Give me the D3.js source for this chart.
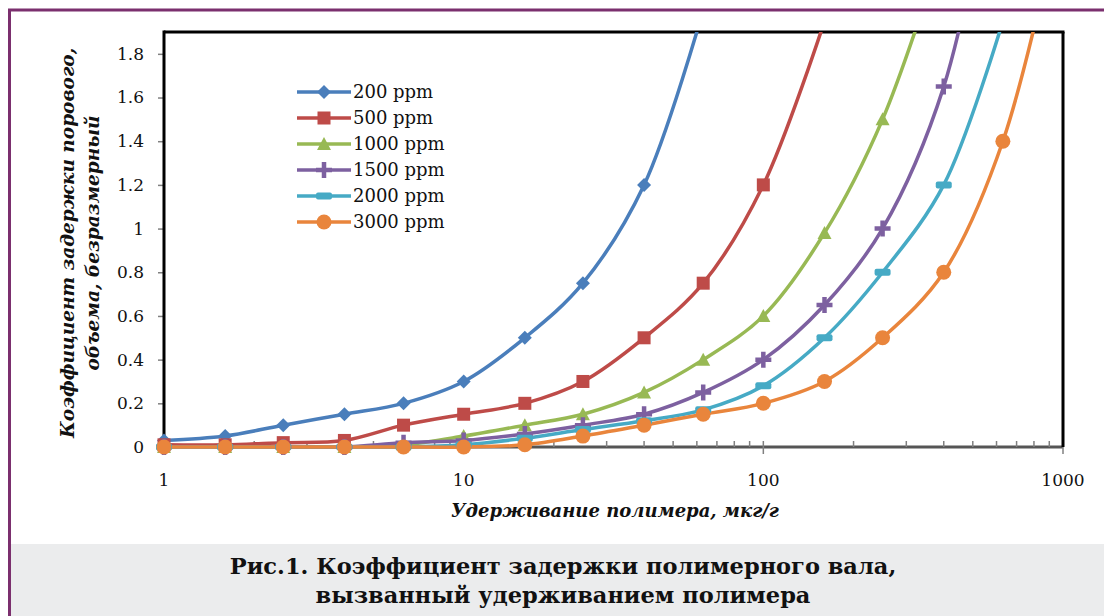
<!DOCTYPE html>
<html>
<head>
<meta charset="utf-8">
<script src="https://cdn.jsdelivr.net/npm/d3@7"></script>
<style>
  body { margin: 0; background: #fff; }
  svg { display: block; }
  svg text { font-family: "DejaVu Serif", serif; }
</style>
</head>
<body>
<svg width="1104" height="616"></svg>
<script>
// data
var retention = [1, 1.6, 2.5, 4, 6.3, 10, 16, 25, 40, 63, 100, 160, 250, 400, 630, 1000]
var seriesNames = ['200 ppm', '500 ppm', '1000 ppm', '1500 ppm', '2000 ppm', '3000 ppm']
var s200  = [0.03, 0.05, 0.1, 0.15, 0.2, 0.3, 0.5, 0.75, 1.2, 2.0]
var s500  = [0.01, 0.01, 0.02, 0.03, 0.1, 0.15, 0.2, 0.3, 0.5, 0.75, 1.2, 1.95]
var s1000 = [0, 0, 0, 0, 0.01, 0.05, 0.1, 0.15, 0.25, 0.4, 0.6, 0.98, 1.5, 2.3]
var s1500 = [0, 0, 0, 0, 0.02, 0.03, 0.06, 0.1, 0.15, 0.25, 0.4, 0.65, 1.0, 1.65, 2.9]
var s2000 = [0, 0, 0, 0, 0, 0.01, 0.04, 0.08, 0.12, 0.17, 0.28, 0.5, 0.8, 1.2, 1.95]
var s3000 = [0, 0, 0, 0, 0, 0, 0.01, 0.05, 0.1, 0.15, 0.2, 0.3, 0.5, 0.8, 1.4, 2.5]
var allSeries = [s200, s500, s1000, s1500, s2000, s3000]
var colors = ['#4a7ebb', '#be4b48', '#98b954', '#7d60a0', '#46aac5', '#e9853c']
var yTicks = [0, 0.2, 0.4, 0.6, 0.8, 1, 1.2, 1.4, 1.6, 1.8]
var xTicks = [1, 10, 100, 1000]

var svg = d3.select('svg')

// frame
svg.append('rect').attr('x', 8).attr('y', 544).attr('width', 1096).attr('height', 72).attr('fill', '#ebeced')
svg.append('line').attr('x1', 8).attr('x2', 1104).attr('y1', 10).attr('y2', 10)
   .attr('stroke', '#7b2f6e').attr('stroke-width', 3)
svg.append('line').attr('x1', 9.5).attr('x2', 9.5).attr('y1', 9).attr('y2', 616)
   .attr('stroke', '#7b2f6e').attr('stroke-width', 3)

var margins = {left: 164, right: 1063, top: 32, bottom: 447}

var xScale = d3.scaleLog().domain([1, 1000]).range([margins.left, margins.right])
var yScale = d3.scaleLinear().domain([0, 1.9]).range([margins.bottom, margins.top])

svg.append('clipPath').attr('id', 'plotclip')
   .append('rect').attr('x', margins.left - 12).attr('y', margins.top)
   .attr('width', margins.right - margins.left + 24).attr('height', margins.bottom - margins.top + 14)

// y axis
var yAxis = d3.axisLeft(yScale).tickValues(yTicks).tickSize(6).tickPadding(14)
  .tickFormat(function(d){ return d === 0 || d === 1 ? d : d.toFixed(1) })
var gy = svg.append('g').attr('transform', 'translate(' + margins.left + ',0)').call(yAxis)
gy.attr('font-family', null)
gy.select('.domain').remove()
gy.selectAll('.tick line').attr('stroke', '#808080').attr('stroke-width', 1.5)
gy.selectAll('.tick text').attr('font-size', '17px').attr('fill', '#111')

// x axis: major ticks + minor ticks inside
var minor = []
for (var e = 1; e < 1000; e *= 10) { for (var k = 2; k < 10; k++) minor.push(e * k) }
var gx = svg.append('g').attr('transform', 'translate(0,' + margins.bottom + ')')
gx.append('line').attr('x1', margins.left).attr('x2', margins.right).attr('y1', 0).attr('y2', 0)
  .attr('stroke', '#555').attr('stroke-width', 3)
gx.selectAll('.minor').data(minor).enter().append('line')
  .attr('x1', function(d){ return xScale(d) }).attr('x2', function(d){ return xScale(d) })
  .attr('y1', 0).attr('y2', -6).attr('stroke', '#808080').attr('stroke-width', 1.5)
gx.selectAll('.major').data(xTicks).enter().append('line')
  .attr('x1', function(d){ return xScale(d) }).attr('x2', function(d){ return xScale(d) })
  .attr('y1', -6).attr('y2', 7).attr('stroke', '#808080').attr('stroke-width', 1.5)
gx.selectAll('.lbl').data(xTicks).enter().append('text')
  .attr('x', function(d){ return xScale(d) }).attr('y', 39)
  .attr('text-anchor', 'middle').attr('font-size', '17px').attr('fill', '#111')
  .text(function(d){ return d })

// top and right borders, left axis line
svg.append('line').attr('x1', margins.left).attr('x2', margins.right + 1.5).attr('y1', margins.top).attr('y2', margins.top)
   .attr('stroke', '#000').attr('stroke-width', 3)
svg.append('line').attr('x1', margins.right).attr('x2', margins.right).attr('y1', margins.top).attr('y2', margins.bottom)
   .attr('stroke', '#000').attr('stroke-width', 3)
svg.append('line').attr('x1', margins.left).attr('x2', margins.left).attr('y1', margins.top - 1.5).attr('y2', margins.bottom)
   .attr('stroke', '#000').attr('stroke-width', 3)

// markers
var drawMarker = function(sel, i, color) {
  if (i === 0) {
    sel.append('path').attr('d', 'M0,-7L7,0L0,7L-7,0Z').attr('fill', color)
  } else if (i === 1) {
    sel.append('rect').attr('x', -6.5).attr('y', -6.5).attr('width', 13).attr('height', 13).attr('fill', color)
  } else if (i === 2) {
    sel.append('path').attr('d', 'M0,-7L7,6L-7,6Z').attr('fill', color)
  } else if (i === 3) {
    sel.append('path').attr('d', 'M-8,0H8M0,-8V8').attr('stroke', color).attr('stroke-width', 4.5)
  } else if (i === 4) {
    sel.append('rect').attr('x', -8).attr('y', -3.5).attr('width', 16).attr('height', 7).attr('rx', 2).attr('fill', color)
  } else {
    sel.append('circle').attr('r', 7.5).attr('fill', color)
  }
}

var line = d3.line()
  .x(function(d){ return xScale(d[0]) })
  .y(function(d){ return yScale(d[1]) })
  .curve(d3.curveCatmullRom.alpha(0.5))

var plot = svg.append('g').attr('clip-path', 'url(#plotclip)')
allSeries.forEach(function(s, i){
  var pts = s.map(function(v, j){ return [retention[j], v] })
  plot.append('path').datum(pts).attr('d', line)
      .attr('fill', 'none').attr('stroke', colors[i]).attr('stroke-width', 3.5)
})
allSeries.forEach(function(s, i){
  var pts = s.map(function(v, j){ return [retention[j], v] })
    .filter(function(p){ return p[1] <= 1.9 })
  pts.forEach(function(p){
    var g = plot.append('g').attr('transform', 'translate(' + xScale(p[0]) + ',' + yScale(p[1]) + ')')
    drawMarker(g, i, colors[i])
  })
})

// legend
var legend = svg.append('g').attr('transform', 'translate(297,92)')
seriesNames.forEach(function(name, i){
  var row = legend.append('g').attr('transform', 'translate(0,' + i * 26 + ')')
  row.append('line').attr('x1', 0).attr('x2', 54).attr('stroke', colors[i]).attr('stroke-width', 3.5)
  drawMarker(row.append('g').attr('transform', 'translate(27,0)'), i, colors[i])
  row.append('text').attr('x', 56).attr('y', 6).attr('font-size', '18px').attr('fill', '#111').text(name)
})

// axis titles
svg.append('text').attr('x', 615).attr('y', 517).attr('text-anchor', 'middle')
   .attr('font-size', '18px').attr('font-style', 'italic').attr('font-weight', 'bold').attr('fill', '#111')
   .text('Удерживание полимера, мкг/г')
var yt = svg.append('text').attr('transform', 'translate(0,243) rotate(-90)')
   .attr('text-anchor', 'middle').attr('font-size', '18.5px').attr('font-style', 'italic')
   .attr('font-weight', 'bold').attr('fill', '#111')
yt.append('tspan').attr('x', 0).attr('y', 74).text('Коэффициент задержки порового,')
yt.append('tspan').attr('x', 0).attr('y', 99).text('объема, безразмерный')

// caption
var cap = svg.append('text').attr('text-anchor', 'middle').attr('font-size', '22.5px')
   .attr('font-weight', 'bold').attr('fill', '#111')
cap.append('tspan').attr('x', 563).attr('y', 574).text('Рис.1. Коэффициент задержки полимерного вала,')
cap.append('tspan').attr('x', 563).attr('y', 603).text('вызванный удерживанием полимера')
</script>
</body>
</html>
